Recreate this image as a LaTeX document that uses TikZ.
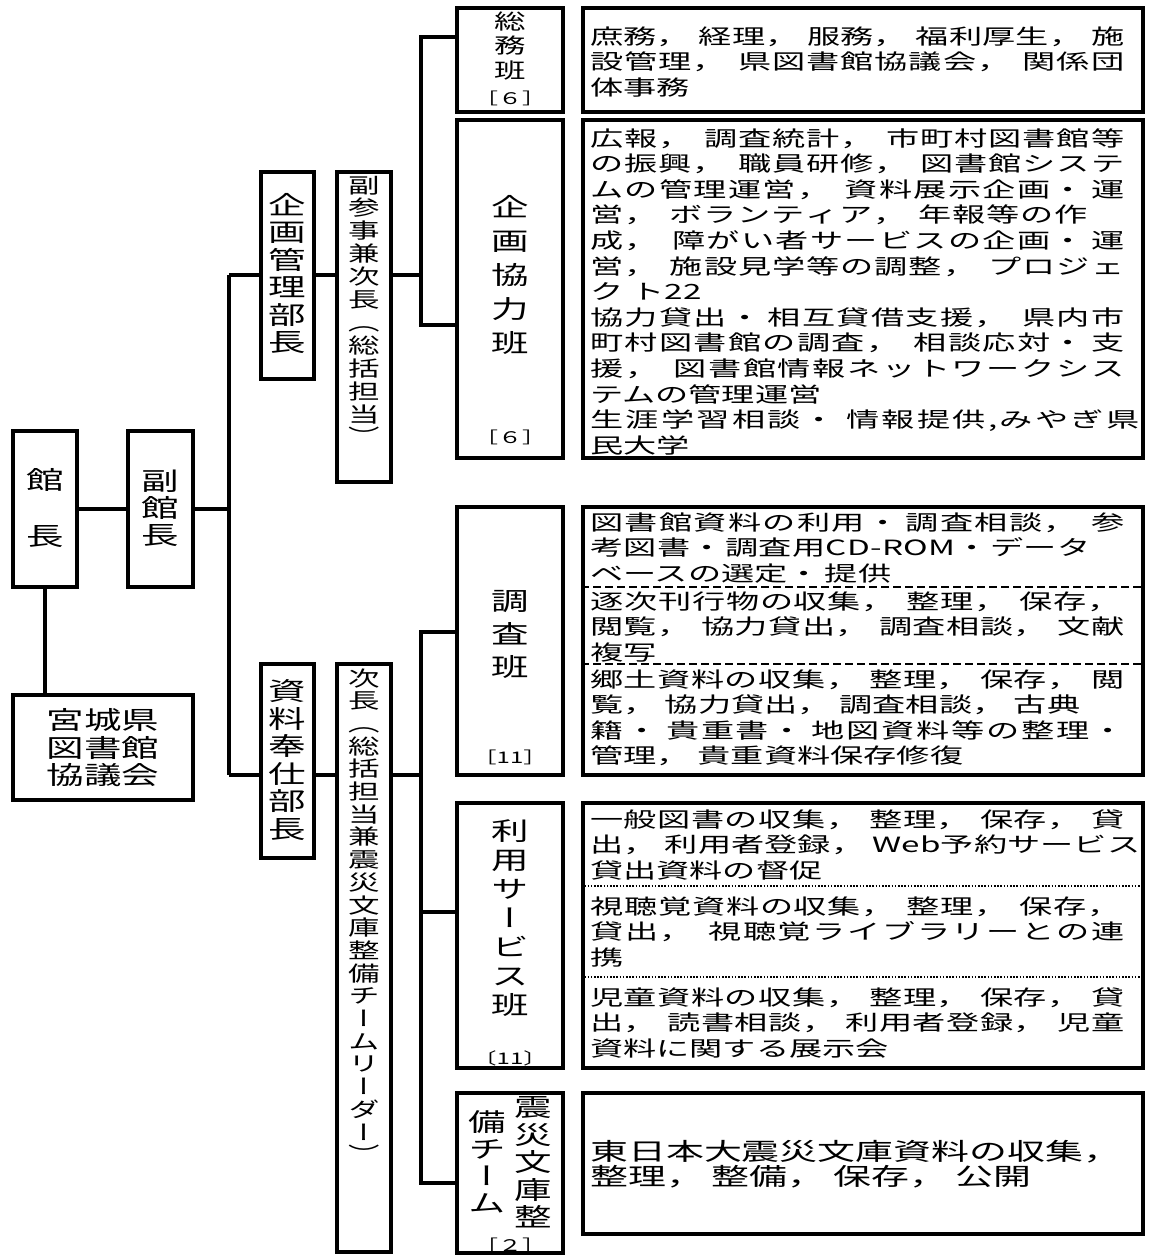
\documentclass[tikz,border=0pt]{standalone}
\usepackage{fontspec}
\newfontfamily\jf[FakeStretch=1.5]{Noto Sans CJK JP}
\newfontfamily\jd[FakeStretch=1.58]{Noto Sans CJK JP}
\newfontfamily\jv[FakeStretch=1.5,RawFeature=+vert]{Noto Sans CJK JP}
\newdimen\px \px=0.75pt
\def\gobbleone#1{}
\def\spread#1{\spreadA#1\relax}
\def\spreadA#1{#1\futurelet\next\spreadB}
\def\spreadB{\ifx\next\relax\expandafter\gobbleone\else\hskip 0pt plus 1pt\relax\expandafter\spreadA\fi}
\newcommand\J[2]{\hbox to #1\px{\spread{#2}}}
\newcommand\N[1]{\hbox{#1}}
\newcommand\g{\hskip 8\px plus 2.5pt\relax}
\newcommand\gd{\hskip 0pt plus 2.5pt\relax}
\newcommand\Lines[2]{\vtop{\baselineskip=#1\px\lineskiplimit=-\maxdimen\lineskip=0pt #2}}
\newcommand\ch[1]{\hbox to 0pt{\hss#1\hss}}
\newcommand\fd{\jd\fontsize{15.75pt}{19pt}\selectfont}
\newcommand\fD{\jf\fontsize{18.75pt}{20pt}\selectfont}
\newcommand\fvd{\jv\fontsize{15.75pt}{19pt}\selectfont}
\newcommand\fvD{\jv\fontsize{18.75pt}{20pt}\selectfont}
\newcommand\fe{\jd\fontsize{18pt}{19pt}\selectfont}
\newcommand\fb{\jf\fontsize{12pt}{14pt}\selectfont}
\tikzset{
 bx/.style 2 args={draw, line width=2.6pt, inner sep=0, minimum width=#1*0.75pt, minimum height=#2*0.75pt},
 conn/.style={line width=2.3pt},
 tx/.style={inner sep=0, anchor=base},
 dtx/.style={inner sep=0, anchor=base west},
 dsep/.style={line width=2.2pt, dash pattern=on 6pt off 3pt},
 tsep/.style={line width=2.2pt, dash pattern=on 1.2pt off 1.2pt}
}
\begin{document}
\begin{tikzpicture}[x=0.75pt,y=-0.75pt]
\useasboundingbox (0,0) rectangle (1153,1257);
% boxes
\node[bx={64}{156}] (kancho) at (45,509) {};
\node[bx={65}{156}] (fukukancho) at (160.5,509) {};
\node[bx={180}{105}] (kyogikai) at (103,747.5) {};
\node[bx={53}{207}] (kanri) at (287.5,275.5) {};
\node[bx={54}{310}] (fukusanji) at (364,327) {};
\node[bx={53}{194}] (shiryo) at (287.5,761) {};
\node[bx={54}{588}] (jicho) at (364,958) {};
\node[bx={106}{104}] (somu) at (510,60) {};
\node[bx={106}{338}] (kikaku) at (510,289) {};
\node[bx={106}{268}] (chosa) at (510,641) {};
\node[bx={106}{265}] (riyo) at (510,935.5) {};
\node[bx={106}{160}] (shinsai) at (510,1173) {};
\node[bx={560}{104}] (d1) at (863,60) {};
\node[bx={560}{338}] (d2) at (863,289) {};
\node[bx={560}{268}] (d3) at (863,641) {};
\node[bx={560}{265}] (d4) at (863,935.5) {};
\node[bx={560}{141}] (d5) at (863,1163.5) {};
% separators
\draw[dsep] (d3.west |- 0,587) -- (d3.east |- 0,587);
\draw[dsep] (d3.west |- 0,664) -- (d3.east |- 0,664);
\draw[tsep] (d4.west |- 0,886) -- (d4.east |- 0,886);
\draw[tsep] (d4.west |- 0,977) -- (d4.east |- 0,977);
% connectors
\coordinate (T1) at (229,275);
\coordinate (T2) at (229,775);
\coordinate (U1) at (421,37);
\coordinate (U2) at (421,325);
\coordinate (L1) at (421,632);
\coordinate (L2) at (421,912);
\coordinate (L3) at (421,1183);
\draw[conn] (kancho.east) -- (fukukancho.west);
\draw[conn] (kancho.south) -- (kancho.south |- kyogikai.north);
\draw[conn] (fukukancho.east) -- (fukukancho.east -| T1);
\draw[conn] (T1) -- (T2);
\draw[conn] (T1) -- (T1 -| kanri.west);
\draw[conn] (T2) -- (T2 -| shiryo.west);
\draw[conn] (T1 -| kanri.east) -- (T1 -| fukusanji.west);
\draw[conn] (T1 -| fukusanji.east) -- (T1 -| U1);
\draw[conn] (U1 -| somu.west) -- (U1) -- (U2) -- (U2 -| kikaku.west);
\draw[conn] (T2 -| shiryo.east) -- (T2 -| jicho.west);
\draw[conn] (T2 -| jicho.east) -- (T2 -| L1);
\draw[conn] (L1 -| chosa.west) -- (L1) -- (L3) -- (L3 -| shinsai.west);
\draw[conn] (L2) -- (L2 -| riyo.west);
% vertical labels
\node[tx] (kanchoT) at (45,489.5) {\fvD\Lines{56}{\ch{館}\ch{長}}};
\node[tx] (fukukanchoT) at (160.5,490.5) {\fvD\Lines{27}{\ch{副}\ch{館}\ch{長}}};
\node[tx] (kyogikaiT) at (103,729.5) {\fD\Lines{27.5}{\ch{宮城県}\ch{図書館}\ch{協議会}}};
\node[tx] (kanriT) at (287.5,214.5) {\fvD\Lines{27.4}{\ch{企}\ch{画}\ch{管}\ch{理}\ch{部}\ch{長}}};
\node[tx] (shiryoT) at (287.5,700.5) {\fvD\Lines{27.6}{\ch{資}\ch{料}\ch{奉}\ch{仕}\ch{部}\ch{長}}};
\node[tx] (fukusanjiT) at (364,193) {\fvd\Lines{22.9}{\ch{副}\ch{参}\ch{事}\ch{兼}\ch{次}\ch{長}\ch{（}\ch{総}\ch{括}\ch{担}\ch{当}\ch{）}}};
\node[tx] (jichoT) at (364,686) {\fvd\Lines{22.7}{\ch{次}\ch{長}\ch{（}\ch{総}\ch{括}\ch{担}\ch{当}\ch{兼}\ch{震}\ch{災}\ch{文}\ch{庫}\ch{整}\ch{備}\ch{チ}\ch{ー}\ch{ム}\ch{リ}\ch{ー}\ch{ダ}\ch{ー}\ch{）}}};
\node[tx] (somuT) at (510,29) {\fvd\Lines{24.5}{\ch{総}\ch{務}\ch{班}}};
\node[tx] (somuN) at (510,104) {\fb［６］};
\node[tx] (kikakuT) at (510,216.5) {\fvD\Lines{34}{\ch{企}\ch{画}\ch{協}\ch{力}\ch{班}}};
\node[tx] (kikakuN) at (510,443) {\fb［６］};
\node[tx] (chosaT) at (510,610.5) {\fvD\Lines{33}{\ch{調}\ch{査}\ch{班}}};
\node[tx] (chosaN) at (510,763) {\fb［11］};
\node[tx] (riyoT) at (510,840.5) {\fvD\Lines{29}{\ch{利}\ch{用}\ch{サ}\ch{ー}\ch{ビ}\ch{ス}\ch{班}}};
\node[tx] (riyoN) at (510,1064) {\fb〔11〕};
\node[tx] (shinsaiR) at (533,1116.5) {\fvD\Lines{27.5}{\ch{震}\ch{災}\ch{文}\ch{庫}\ch{整}}};
\node[tx] (shinsaiL) at (487,1131.5) {\fvD\Lines{27}{\ch{備}\ch{チ}\ch{ー}\ch{ム}}};
\node[tx] (shinsaiN) at (510,1251) {\fb［２］};
% descriptions
\node[dtx] (d1T) at (590,44) {\fd\Lines{25.5}{%
\J{534}{庶務，\g 経理，\g 服務，\g 福利厚生，\g 施}%
\J{534}{設管理，\g 県図書館協議会，\g 関係団}%
\N{体事務}}};
\node[dtx] (d2T) at (590,146) {\fd\Lines{25.6}{%
\J{534}{広報，\g 調査統計，\g 市町村図書館等}%
\J{534}{の振興，\g 職員研修，\g 図書館システ}%
\J{534}{ムの管理運営，\g 資料展示企画・\gd 運}%
\J{497}{営，\g ボランティア，\g 年報等の作}%
\J{534}{成，\g 障がい者サービスの企画・\gd 運}%
\J{534}{営，\g 施設見学等の調整，\g プロジェ}%
\N{ク\hskip 8\px ト22}%
\J{534}{協力貸出・\gd 相互貸借支援，\g 県内市}%
\J{534}{町村図書館の調査，\g 相談応対・\gd 支}%
\J{534}{援，\g 図書館情報ネットワークシス}%
\N{テムの管理運営}%
\J{549}{生涯学習相談・\gd 情報提供,みやぎ県}%
\N{民大学}}};
\node[dtx] (d3a) at (590,530) {\fd\Lines{25.5}{%
\J{534}{図書館資料の利用・\gd 調査相談，\g 参}%
\J{500}{考図書・\gd 調査用CD-ROM・\gd データ}%
\N{ベースの選定・\hskip 4\px 提供}}};
\node[dtx] (d3b) at (590,609) {\fd\Lines{25.5}{%
\J{530}{逐次刊行物の収集，\g 整理，\g 保存，}%
\J{534}{閲覧，\g 協力貸出，\g 調査相談，\g 文献}%
\N{複写}}};
\node[dtx] (d3c) at (590,687) {\fd\Lines{25.5}{%
\J{534}{郷土資料の収集，\g 整理，\g 保存，\g 閲}%
\J{490}{覧，\g 協力貸出，\g 調査相談，\g 古典}%
\J{534}{籍・\gd 貴重書・\gd 地図資料等の整理・}%
\N{管理，\g 貴重資料保存修復}}};
\node[dtx] (d4a) at (590,827) {\fd\Lines{25.5}{%
\J{534}{一般図書の収集，\g 整理，\g 保存，\g 貸}%
\J{550}{出，\g 利用者登録，\g Web予約サービス}%
\N{貸出資料の督促}}};
\node[dtx] (d4b) at (590,914) {\fd\Lines{25.5}{%
\J{530}{視聴覚資料の収集，\g 整理，\g 保存，}%
\J{534}{貸出，\g 視聴覚ライブラリーとの連}%
\N{携}}};
\node[dtx] (d4c) at (590,1005) {\fd\Lines{25.5}{%
\J{534}{児童資料の収集，\g 整理，\g 保存，\g 貸}%
\J{534}{出，\g 読書相談，\g 利用者登録，\g 児童}%
\N{資料に関する展示会}}};
\node[dtx] (d5T) at (590,1160) {\fe\Lines{25}{%
\N{東日本大震災文庫資料の収集，}%
\N{整理，\g 整備，\g 保存，\g 公開}}};
\end{tikzpicture}
\end{document}
